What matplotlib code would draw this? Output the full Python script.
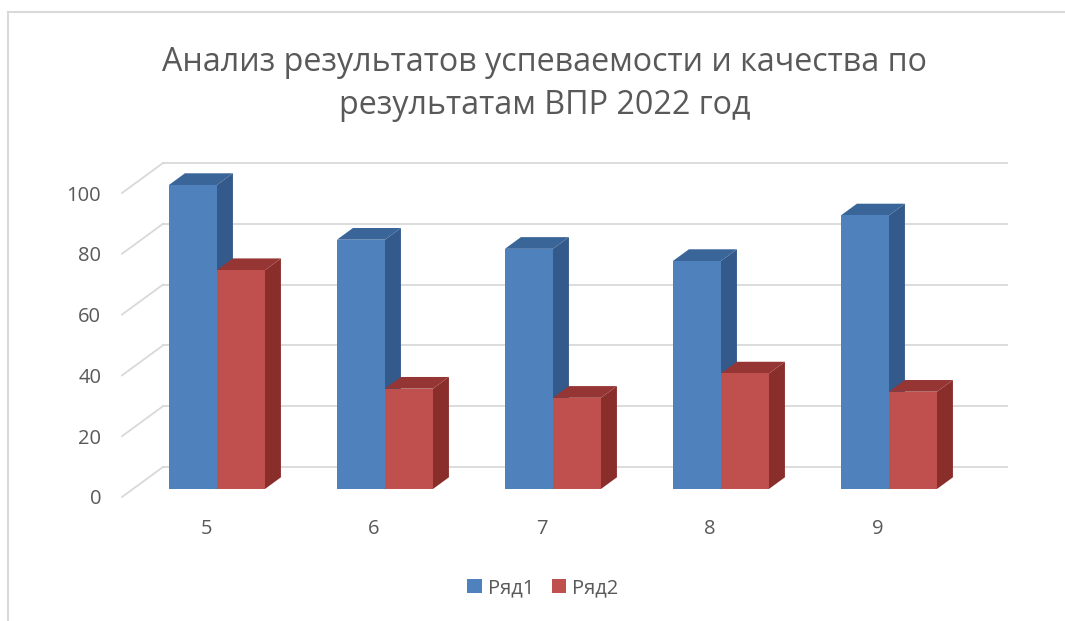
import matplotlib.pyplot as plt
from matplotlib.patches import Polygon
from matplotlib.lines import Line2D

# --- данные ---
grades = ['5', '6', '7', '8', '9']
ryad1 = [100, 82, 79, 75, 90]
ryad2 = [72, 33, 30, 38, 32]
series_names = ['Ряд1', 'Ряд2']
y_ticks = [0, 20, 40, 60, 80, 100]
title = 'Анализ результатов успеваемости и качества по\nрезультатам ВПР 2022 год'

# цвета: лицевая грань, боковая, верхняя
BLUE = ('#4f81bd', '#335a8a', '#3a6599')
RED = ('#c0504d', '#8a2e2c', '#963634')
GRID = '#d9d9d9'
TEXT = '#595959'

plt.rcParams['font.family'] = ['Open Sans', 'DejaVu Sans']

W, H = 1065, 621
fig = plt.figure(figsize=(W / 100, H / 100), dpi=100)
fig.patch.set_facecolor('white')

# оси в пикселях: передний край пола y=497, задняя стенка до y=163
left_px, right_px, bottom_px, top_px = 122, 1007, 497, 163
cat_px = 168.0
val_px = 3.04
ax = fig.add_axes([left_px / W, (H - bottom_px) / H,
                   (right_px - left_px) / W, (bottom_px - top_px) / H])
ax.set_xlim(0, (right_px - left_px) / cat_px)
ax.set_ylim(0, (bottom_px - top_px) / val_px)
for s in ax.spines.values():
    s.set_visible(False)

# смещение глубины (косоугольная проекция)
DX = 41 / cat_px
DY = 30 / val_px
front_depth = 0.267
bar_depth = 0.39
bw = 1 / 3.5  # зазор 150%

# сетка: задняя стенка и левая боковая стенка
for v in y_ticks:
    ax.plot([DX, ax.get_xlim()[1]], [v + DY, v + DY], color=GRID, lw=1.3, zorder=1, clip_on=False)
    ax.plot([0, DX], [v, v + DY], color=GRID, lw=1.3, zorder=1, clip_on=False)

ox, oy = front_depth * DX, front_depth * DY
dx, dy = bar_depth * DX, bar_depth * DY

def draw_bars(values, offset, colors, label, z):
    xs = [i + 0.5 + offset + ox for i in range(len(values))]
    bars = ax.bar(xs, values, width=bw, bottom=oy, align='edge', color=colors[0],
                  label=label, zorder=z + 0.5, linewidth=0)
    for x, v in zip(xs, values):
        top = v + oy
        side = [(x + bw, oy), (x + bw + dx, oy + dy), (x + bw + dx, top + dy), (x + bw, top)]
        cap = [(x, top), (x + dx, top + dy), (x + bw + dx, top + dy), (x + bw, top)]
        ax.add_patch(Polygon(side, closed=True, facecolor=colors[1], lw=0, zorder=z))
        ax.add_patch(Polygon(cap, closed=True, facecolor=colors[2], lw=0, zorder=z))
    return bars

draw_bars(ryad1, -bw, BLUE, series_names[0], 3)
draw_bars(ryad2, 0, RED, series_names[1], 4)

# подписи осей
ax.set_yticks(y_ticks)
ax.set_yticklabels([str(v) for v in y_ticks])
ax.set_xticks([i + 0.5 for i in range(len(grades))])
ax.set_xticklabels(grades)
ax.tick_params(axis='y', length=0, pad=15, labelsize=14.5, labelcolor=TEXT)
ax.tick_params(axis='x', length=0, pad=16, labelsize=14.5, labelcolor=TEXT)

fig.text(545 / W, 1 - 84 / H, title, ha='center', va='center', fontsize=23.2,
         color=TEXT, linespacing=1.4)

ax.legend(loc='center', bbox_to_anchor=(543 / W, 1 - 588 / H), bbox_transform=fig.transFigure,
          ncol=2, frameon=False, fontsize=14.5, labelcolor=TEXT, handlelength=0.7,
          handleheight=0.7, handletextpad=0.3, columnspacing=0.9)

# рамка области диаграммы (видны только верх и левый край)
fig.add_artist(Line2D([8 / W, 1.0], [1 - 12 / H, 1 - 12 / H], transform=fig.transFigure,
                      color=GRID, lw=1.5))
fig.add_artist(Line2D([8 / W, 8 / W], [0.0, 1 - 12 / H], transform=fig.transFigure,
                      color=GRID, lw=1.5))

fig.savefig('out.png', dpi=100)
